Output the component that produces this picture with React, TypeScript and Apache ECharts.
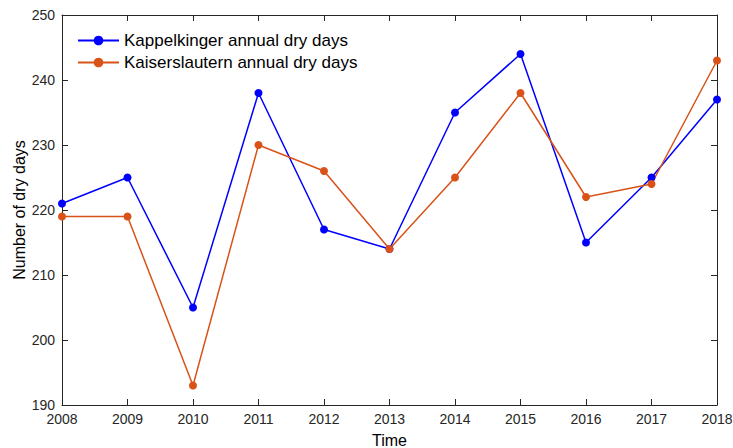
import React, { useEffect, useRef } from "react";
import * as echarts from "echarts";

const years = ["2008", "2009", "2010", "2011", "2012", "2013", "2014", "2015", "2016", "2017", "2018"];
const kappelkinger = [221, 225, 205, 238, 217, 214, 235, 244, 215, 225, 237];
const kaiserslautern = [219, 219, 193, 230, 226, 214, 225, 238, 222, 224, 243];
const seriesNames = ["Kappelkinger annual dry days", "Kaiserslautern annual dry days"];

const FONT = "Liberation Sans, Arial, sans-serif";
const AXIS = "#262626";

export default function App() {
  const ref = useRef<HTMLDivElement>(null);
  useEffect(() => {
    if (!ref.current) return;
    const chart = echarts.init(ref.current, undefined, { renderer: "svg" });
    const boxAxis = {
      axisLine: { show: true, lineStyle: { color: AXIS, width: 1 } },
      axisTick: { show: true, inside: true, length: 6, lineStyle: { color: AXIS } },
      axisLabel: { show: false },
      splitLine: { show: false },
    };
    chart.setOption({
      animation: false,
      backgroundColor: "#ffffff",
      textStyle: { fontFamily: FONT },
      grid: { left: 62, right: 16, top: 15, bottom: 43, containLabel: false, outerBoundsMode: "none" },
      legend: {
        left: 77,
        top: 32,
        padding: 0,
        orient: "vertical",
        itemWidth: 41,
        itemHeight: 12,
        itemGap: 5,
        textStyle: { fontSize: 17, color: "#000", fontFamily: FONT },
        data: seriesNames,
      },
      xAxis: [
        {
          type: "value",
          min: 2008,
          max: 2018,
          interval: 1,
          position: "bottom",
          name: "Time",
          nameLocation: "middle",
          nameGap: 27,
          nameMoveOverlap: false,
          nameTextStyle: { fontSize: 16, color: "#000", fontFamily: FONT },
          axisLine: { show: true, lineStyle: { color: AXIS } },
          axisTick: { show: true, inside: true, length: 6, lineStyle: { color: AXIS } },
          axisLabel: { fontSize: 14, color: AXIS, margin: 7, fontFamily: FONT, formatter: (v: number) => String(v) },
          splitLine: { show: false },
        },
        { type: "value", min: 2008, max: 2018, interval: 1, position: "top", ...boxAxis },
      ],
      yAxis: [
        {
          type: "value",
          min: 190,
          max: 250,
          interval: 10,
          position: "left",
          name: "Number of dry days",
          nameLocation: "middle",
          nameGap: 35,
          nameMoveOverlap: false,
          nameTextStyle: { fontSize: 16, color: "#000", fontFamily: FONT },
          axisLine: { show: true, lineStyle: { color: AXIS } },
          axisTick: { show: true, inside: true, length: 6, lineStyle: { color: AXIS } },
          axisLabel: { fontSize: 14, color: AXIS, margin: 7, fontFamily: FONT },
          splitLine: { show: false },
        },
        { type: "value", min: 190, max: 250, interval: 10, position: "right", ...boxAxis },
      ],
      series: [
        {
          name: seriesNames[0],
          type: "line",
          data: years.map((y, i) => [Number(y), kappelkinger[i]]),
          symbol: "circle",
          symbolSize: 8,
          lineStyle: { color: "#0000ff", width: 1.5 },
          itemStyle: { color: "#0000ff" },
        },
        {
          name: seriesNames[1],
          type: "line",
          data: years.map((y, i) => [Number(y), kaiserslautern[i]]),
          symbol: "circle",
          symbolSize: 8,
          lineStyle: { color: "#d95319", width: 1.5 },
          itemStyle: { color: "#d95319" },
        },
      ],
    });
    return () => chart.dispose();
  }, []);
  return <div ref={ref} style={{ width: 733, height: 448, position: "absolute", left: 0, top: 0 }} />;
}
